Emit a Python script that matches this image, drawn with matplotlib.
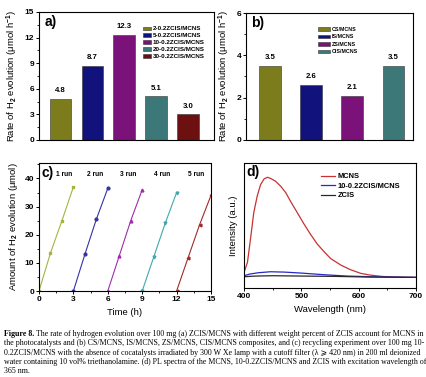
import matplotlib
matplotlib.use("Agg")
import matplotlib.pyplot as plt
from matplotlib.ticker import MultipleLocator

plt.rcParams['font.family'] = ['Liberation Sans', 'DejaVu Sans']
plt.rcParams['font.weight'] = 'bold'
plt.rcParams['mathtext.fontset'] = 'custom'
plt.rcParams['mathtext.rm'] = 'Liberation Sans:bold'
plt.rcParams['mathtext.bf'] = 'Liberation Sans:bold'
plt.rcParams['mathtext.it'] = 'Liberation Sans:bold'
plt.rcParams['mathtext.default'] = 'bf'

# (a) rate vs ZCIS content
a_labels = ['2-0.2ZCIS/MCNS', '5-0.2ZCIS/MCNS', '10-0.2ZCIS/MCNS', '20-0.2ZCIS/MCNS', '30-0.2ZCIS/MCNS']
a_values = [4.8, 8.7, 12.3, 5.1, 3.0]
# (b) single components
b_labels = ['CS/MCNS', 'IS/MCNS', 'ZS/MCNS', 'CIS/MCNS']
b_values = [3.5, 2.6, 2.1, 3.5]
# (c) recycling runs
c_runs = ['1 run', '2 run', '3 run', '4 run', '5 run']
c_time = [[0, 1, 2, 3], [3, 4, 5, 6], [6, 7, 8, 9], [9, 10, 11, 12], [12, 13, 14, 15]]
c_amount = [[0, 13.5, 25, 37], [0, 13, 25.5, 36.5], [0, 12.5, 25, 36],
            [0, 12, 24, 35], [0, 11.8, 23.5, 34]]
c_label_x = [2.15, 4.9, 7.8, 10.7, 13.7]
# (d) PL spectra (arbitrary units)
d_wl_mcns = [400, 406, 412, 417, 423, 429, 435, 441, 447, 455, 464, 473, 481, 493, 505,
             516, 528, 540, 551, 569, 586, 604, 620, 640, 660, 700]
d_mcns = [47, 77, 157, 227, 277, 312, 329, 334, 330, 322, 307, 287, 262, 227, 192,
          162, 132, 109, 89, 69, 55, 44, 39, 35, 33, 32]
d_wl_blue = [400, 410, 425, 446, 470, 500, 540, 580, 620, 700]
d_blue = [37, 42, 46, 49, 48, 45, 40, 36, 34, 32]
d_wl_zcis = [400, 420, 450, 500, 560, 620, 700]
d_zcis = [34, 36, 37, 36, 35, 33, 32]

bar_colors = ['#7c7c1c', '#12127c', '#7a127a', '#3c7878', '#6c1010']
line_colors = ['#a8b23c', '#3434a4', '#a02cae', '#40a8aa', '#a02a2a']
markers = ['s', 'o', '^', 'v', '<']

W, H = 426, 377
fig = plt.figure(figsize=(W / 100, H / 100), dpi=100)


def box(l, t, r, b):
    return [l / W, (H - b) / H, (r - l) / W, (b - t) / H]


def at(x, y):
    return (x / W, 1 - y / H)


def style(ax):
    ax.tick_params(direction='out', labelsize=6, length=2.5, width=0.7, pad=1)
    ax.tick_params(which='minor', direction='out', length=1.5, width=0.6)
    for s in ax.spines.values():
        s.set_linewidth(0.8)


LAB = 6.8

# panel a
ax = fig.add_axes(box(39, 12, 214, 140))
xa = range(1, len(a_values) + 1)
bars = ax.bar(xa, a_values, width=0.68, color=bar_colors, edgecolor='#333333', linewidth=0.4)
for h, x, v in zip(bars, xa, a_values):
    h.set_label(a_labels[x - 1])
    ax.annotate(f'{v:.1f}', (x, v), xytext=(0, 3.5), textcoords='offset points',
                ha='center', va='bottom', fontsize=5.6)
ax.set_xlim(0.32, 5.82)
ax.set_ylim(0, 15)
ax.set_xticks([])
ax.yaxis.set_major_locator(MultipleLocator(3))
ax.yaxis.set_minor_locator(MultipleLocator(1.5))
ax.set_ylabel('Rate of H$_2$ evolution (μmol h$^{-1}$)', fontsize=LAB, labelpad=3)
ax.text(0.03, 0.975, 'a)', transform=ax.transAxes, fontsize=10, va='top', ha='left')
ax.legend(loc='upper left', bbox_to_anchor=at(143, 26.5), bbox_transform=fig.transFigure,
          fontsize=4.5, frameon=False, handlelength=1.3, handleheight=0.5,
          labelspacing=0.3, handletextpad=0.3, borderaxespad=0, borderpad=0)
style(ax)

# panel b
ax = fig.add_axes(box(246, 13, 413, 140))
xb = range(1, len(b_values) + 1)
bars = ax.bar(xb, b_values, width=0.52, color=bar_colors[:4], edgecolor='#333333', linewidth=0.4)
for h, x, v in zip(bars, xb, b_values):
    h.set_label(b_labels[x - 1])
    ax.annotate(f'{v:.1f}', (x, v), xytext=(0, 3.5), textcoords='offset points',
                ha='center', va='bottom', fontsize=5.6)
ax.set_xlim(0.42, 4.48)
ax.set_ylim(0, 6)
ax.set_xticks([])
ax.yaxis.set_major_locator(MultipleLocator(2))
ax.yaxis.set_minor_locator(MultipleLocator(1))
ax.set_ylabel('Rate of H$_2$ evolution (μmol h$^{-1}$)', fontsize=LAB, labelpad=3)
ax.text(0.03, 0.975, 'b)', transform=ax.transAxes, fontsize=10, va='top', ha='left')
ax.legend(loc='upper left', bbox_to_anchor=at(318, 27), bbox_transform=fig.transFigure,
          fontsize=3.8, frameon=False, handlelength=2.3, handleheight=0.6,
          labelspacing=0.45, handletextpad=0.3, borderaxespad=0, borderpad=0)
style(ax)

# panel c
ax = fig.add_axes(box(39, 163, 211, 291))
for i in range(len(c_runs)):
    ax.plot(c_time[i], c_amount[i], color=line_colors[i], marker=markers[i],
            markersize=2.0, linewidth=0.8)
    ax.text(c_label_x[i], 41.3, c_runs[i], fontsize=4.8, ha='center', va='center')
ax.set_xlim(0, 15)
ax.set_ylim(0, 45.5)
ax.xaxis.set_major_locator(MultipleLocator(3))
ax.xaxis.set_minor_locator(MultipleLocator(1.5))
ax.yaxis.set_major_locator(MultipleLocator(10))
ax.yaxis.set_minor_locator(MultipleLocator(5))
ax.set_xlabel('Time (h)', fontsize=LAB, labelpad=4)
ax.set_ylabel('Amount of H$_2$ evolution (μmol)', fontsize=LAB, labelpad=3)
ax.text(0.015, 0.975, 'c)', transform=ax.transAxes, fontsize=10, va='top', ha='left')
style(ax)

# panel d
ax = fig.add_axes(box(244, 163, 416, 288))
ax.plot(d_wl_mcns, d_mcns, color='#c83232', linewidth=0.9, label='MCNS')
ax.plot(d_wl_blue, d_blue, color='#2828c8', linewidth=0.9, label='10-0.2ZCIS/MCNS')
ax.plot(d_wl_zcis, d_zcis, color='#282828', linewidth=0.9, label='ZCIS')
ax.set_xlim(400, 700)
ax.set_ylim(0, 377)
ax.set_yticks([])
ax.xaxis.set_major_locator(MultipleLocator(100))
ax.xaxis.set_minor_locator(MultipleLocator(50))
ax.set_xlabel('Wavelength (nm)', fontsize=LAB, labelpad=4)
ax.set_ylabel('Intensity (a.u.)', fontsize=LAB, labelpad=4)
ax.text(0.015, 0.985, 'd)', transform=ax.transAxes, fontsize=10, va='top', ha='left')
ax.legend(loc='upper left', bbox_to_anchor=at(321, 173), bbox_transform=fig.transFigure,
          fontsize=5.4, frameon=False, handlelength=1.9, labelspacing=0.3,
          handletextpad=0.3, borderaxespad=0, borderpad=0)
style(ax)

# caption
cap_lines = [
    'The rate of hydrogen evolution over 100 mg (a) ZCIS/MCNS with different weight percent of ZCIS account for MCNS in',
    'the photocatalysts and (b) CS/MCNS, IS/MCNS, ZS/MCNS, CIS/MCNS composites, and (c) recycling experiment over 100 mg 10-',
    '0.2ZCIS/MCNS with the absence of cocatalysts irradiated by 300 W Xe lamp with a cutoff filter (λ ⩾ 420 nm) in 200 ml deionized',
    'water containing 10 vol% triethanolamine. (d) PL spectra of the MCNS, 10-0.2ZCIS/MCNS and ZCIS with excitation wavelength of',
    '365 nm.',
]
serif = ['Liberation Serif', 'DejaVu Serif', 'DejaVu Sans']
fig.canvas.draw()
renderer = fig.canvas.get_renderer()
y0 = 334
for k, line in enumerate(cap_lines):
    y = 1 - (y0 + k * 9.3) / H
    x = 4 / W
    if k == 0:
        t = fig.text(x, y, 'Figure 8. ', family=serif, weight='bold', fontsize=5.65, va='center')
        x = t.get_window_extent(renderer).x1 / W
    fig.text(x, y, line, family=serif, weight='normal', fontsize=5.65, va='center')

fig.savefig('out.png', dpi=100)
